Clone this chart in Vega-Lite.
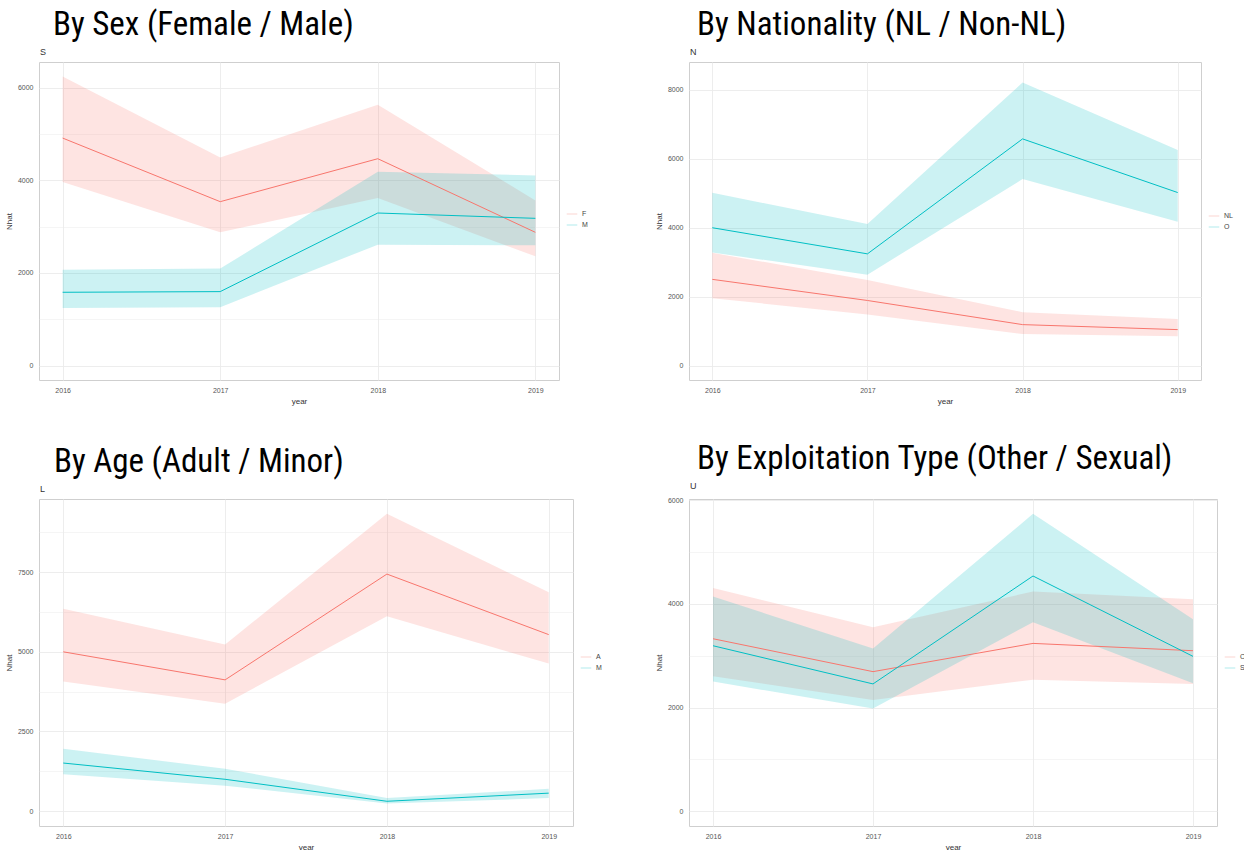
{
  "$schema": "https://vega.github.io/schema/vega-lite/v6.json",
  "background": "white",
  "padding": {"left": 4, "top": 8, "right": 2, "bottom": 0},
  "columns": 2,
  "spacing": {"row": 36, "column": 52},
  "resolve": {"scale": {"color": "independent", "y": "independent"}, "legend": {"color": "independent"}},
  "config": {
    "view": {"stroke": "#cfcfcf", "strokeWidth": 1},
    "title": {"font": "Roboto Condensed, Liberation Sans Narrow, Roboto, sans-serif", "fontSize": 33, "fontWeight": "normal", "color": "#000000", "anchor": "start", "dx": 48, "offset": 6},
    "axis": {"labelFontSize": 7, "labelColor": "#555555", "titleFontSize": 8, "titleColor": "#333333", "titleFontWeight": "normal", "domain": false, "ticks": false, "gridColor": "#ebebeb", "labelPadding": 6, "titlePadding": 4},
    "legend": {"labelFontSize": 7, "labelColor": "#444444", "symbolType": "stroke", "symbolStrokeWidth": 1.5, "symbolSize": 110}
  },
  "datasets": {
    "sex": [
      {"year": 2016, "g": "F", "est": 4914, "lo": 3964, "hi": 6245},
      {"year": 2017, "g": "F", "est": 3540, "lo": 2878, "hi": 4496},
      {"year": 2018, "g": "F", "est": 4468, "lo": 3619, "hi": 5633},
      {"year": 2019, "g": "F", "est": 2878, "lo": 2360, "hi": 3568},
      {"year": 2016, "g": "M", "est": 1583, "lo": 1245, "hi": 2072},
      {"year": 2017, "g": "M", "est": 1597, "lo": 1259, "hi": 2094},
      {"year": 2018, "g": "M", "est": 3295, "lo": 2612, "hi": 4187},
      {"year": 2019, "g": "M", "est": 3180, "lo": 2597, "hi": 4108}
    ],
    "nat": [
      {"year": 2016, "g": "NL", "est": 2505, "lo": 1961, "hi": 3272},
      {"year": 2017, "g": "NL", "est": 1893, "lo": 1485, "hi": 2485},
      {"year": 2018, "g": "NL", "est": 1194, "lo": 922, "hi": 1553},
      {"year": 2019, "g": "NL", "est": 1049, "lo": 854, "hi": 1359},
      {"year": 2016, "g": "O", "est": 4000, "lo": 3282, "hi": 5010},
      {"year": 2017, "g": "O", "est": 3243, "lo": 2641, "hi": 4107},
      {"year": 2018, "g": "O", "est": 6573, "lo": 5408, "hi": 8204},
      {"year": 2019, "g": "O", "est": 5019, "lo": 4175, "hi": 6252}
    ],
    "age": [
      {"year": 2016, "g": "A", "est": 5000, "lo": 4070, "hi": 6350},
      {"year": 2017, "g": "A", "est": 4120, "lo": 3370, "hi": 5230},
      {"year": 2018, "g": "A", "est": 7440, "lo": 6120, "hi": 9330},
      {"year": 2019, "g": "A", "est": 5540, "lo": 4630, "hi": 6870},
      {"year": 2016, "g": "M", "est": 1510, "lo": 1160, "hi": 1960},
      {"year": 2017, "g": "M", "est": 1000, "lo": 800, "hi": 1330},
      {"year": 2018, "g": "M", "est": 310, "lo": 240, "hi": 410},
      {"year": 2019, "g": "M", "est": 565, "lo": 410, "hi": 700}
    ],
    "expl": [
      {"year": 2016, "g": "O", "est": 3327, "lo": 2603, "hi": 4308},
      {"year": 2017, "g": "O", "est": 2692, "lo": 2147, "hi": 3551},
      {"year": 2018, "g": "O", "est": 3237, "lo": 2538, "hi": 4237},
      {"year": 2019, "g": "O", "est": 3096, "lo": 2455, "hi": 4090},
      {"year": 2016, "g": "S", "est": 3192, "lo": 2500, "hi": 4141},
      {"year": 2017, "g": "S", "est": 2455, "lo": 1981, "hi": 3141},
      {"year": 2018, "g": "S", "est": 4538, "lo": 3647, "hi": 5737},
      {"year": 2019, "g": "S", "est": 2987, "lo": 2468, "hi": 3705}
    ]
  },
  "concat": [
    {
      "title": {"text": "By Sex (Female / Male)"},
      "vconcat": [{
        "width": 520, "height": 318,
        "title": {"text": "S", "font": "Liberation Sans, sans-serif", "fontSize": 9, "color": "#333333", "frame": "group", "dx": 1, "offset": 5},
        "data": {"name": "sex"},
        "encoding": {
          "x": {"field": "year", "type": "quantitative", "title": "year", "scale": {"domain": [2015.85, 2019.15], "nice": false, "zero": false}, "axis": {"values": [2016, 2016.5, 2017, 2017.5, 2018, 2018.5, 2019], "labelExpr": "datum.value % 1 == 0 ? datum.label : ''", "format": "d", "gridWidth": {"condition": {"test": "datum.value % 1 != 0", "value": 0.5}, "value": 0.9}}},
          "color": {"field": "g", "type": "nominal", "scale": {"range": ["#F8766D", "#00BFC4"]}, "legend": {"title": null, "orient": "none", "legendX": 527, "legendY": 146}}
        },
        "layer": [
          {"mark": {"type": "area", "opacity": 0.2}, "encoding": {"y": {"field": "lo", "type": "quantitative", "title": "Nhat", "scale": {"domain": [-312, 6557], "nice": false, "zero": false}, "axis": {"values": [0, 1000, 2000, 3000, 4000, 5000, 6000], "labelExpr": "datum.value % 2000 == 0 ? datum.label : ''", "format": "d", "gridWidth": {"condition": {"test": "datum.value % 2000 != 0", "value": 0.5}, "value": 0.9}}}, "y2": {"field": "hi"}}},
          {"mark": {"type": "line", "strokeWidth": 1}, "encoding": {"y": {"field": "est", "type": "quantitative", "title": "Nhat"}}}
        ]
      }]
    },
    {
      "title": {"text": "By Nationality (NL / Non-NL)", "dx": 42},
      "vconcat": [{
        "width": 512, "height": 318,
        "title": {"text": "N", "font": "Liberation Sans, sans-serif", "fontSize": 9, "color": "#333333", "frame": "group", "dx": 1, "offset": 5},
        "data": {"name": "nat"},
        "encoding": {
          "x": {"field": "year", "type": "quantitative", "title": "year", "scale": {"domain": [2015.85, 2019.15], "nice": false, "zero": false}, "axis": {"values": [2016, 2016.5, 2017, 2017.5, 2018, 2018.5, 2019], "labelExpr": "datum.value % 1 == 0 ? datum.label : ''", "format": "d", "gridWidth": {"condition": {"test": "datum.value % 1 != 0", "value": 0.5}, "value": 0.9}}},
          "color": {"field": "g", "type": "nominal", "scale": {"range": ["#F8766D", "#00BFC4"]}, "legend": {"title": null, "orient": "none", "legendX": 519, "legendY": 148}}
        },
        "layer": [
          {"mark": {"type": "area", "opacity": 0.2}, "encoding": {"y": {"field": "lo", "type": "quantitative", "title": "Nhat", "scale": {"domain": [-410, 8800], "nice": false, "zero": false}, "axis": {"values": [0, 1000, 2000, 3000, 4000, 5000, 6000, 7000, 8000], "labelExpr": "datum.value % 2000 == 0 ? datum.label : ''", "format": "d", "gridWidth": {"condition": {"test": "datum.value % 2000 != 0", "value": 0.5}, "value": 0.9}}}, "y2": {"field": "hi"}}},
          {"mark": {"type": "line", "strokeWidth": 1}, "encoding": {"y": {"field": "est", "type": "quantitative", "title": "Nhat"}}}
        ]
      }]
    },
    {
      "title": {"text": "By Age (Adult / Minor)", "dx": 49},
      "vconcat": [{
        "width": 534, "height": 327,
        "title": {"text": "L", "font": "Liberation Sans, sans-serif", "fontSize": 9, "color": "#333333", "frame": "group", "dx": 1, "offset": 5},
        "data": {"name": "age"},
        "encoding": {
          "x": {"field": "year", "type": "quantitative", "title": "year", "scale": {"domain": [2015.85, 2019.15], "nice": false, "zero": false}, "axis": {"values": [2016, 2016.5, 2017, 2017.5, 2018, 2018.5, 2019], "labelExpr": "datum.value % 1 == 0 ? datum.label : ''", "format": "d", "gridWidth": {"condition": {"test": "datum.value % 1 != 0", "value": 0.5}, "value": 0.9}}},
          "color": {"field": "g", "type": "nominal", "scale": {"range": ["#F8766D", "#00BFC4"]}, "legend": {"title": null, "orient": "none", "legendX": 541, "legendY": 152}}
        },
        "layer": [
          {"mark": {"type": "area", "opacity": 0.2}, "encoding": {"y": {"field": "lo", "type": "quantitative", "title": "Nhat", "scale": {"domain": [-466, 9796], "nice": false, "zero": false}, "axis": {"values": [0, 1250, 2500, 3750, 5000, 6250, 7500, 8750], "labelExpr": "datum.value % 2500 == 0 ? datum.label : ''", "format": "d", "gridWidth": {"condition": {"test": "datum.value % 2500 != 0", "value": 0.5}, "value": 0.9}}}, "y2": {"field": "hi"}}},
          {"mark": {"type": "line", "strokeWidth": 1}, "encoding": {"y": {"field": "est", "type": "quantitative", "title": "Nhat"}}}
        ]
      }]
    },
    {
      "title": {"text": "By Exploitation Type (Other / Sexual)", "dx": 42},
      "vconcat": [{
        "width": 528, "height": 327,
        "title": {"text": "U", "font": "Liberation Sans, sans-serif", "fontSize": 9, "color": "#333333", "frame": "group", "dx": 1, "offset": 5},
        "data": {"name": "expl"},
        "encoding": {
          "x": {"field": "year", "type": "quantitative", "title": "year", "scale": {"domain": [2015.85, 2019.15], "nice": false, "zero": false}, "axis": {"values": [2016, 2016.5, 2017, 2017.5, 2018, 2018.5, 2019], "labelExpr": "datum.value % 1 == 0 ? datum.label : ''", "format": "d", "gridWidth": {"condition": {"test": "datum.value % 1 != 0", "value": 0.5}, "value": 0.9}}},
          "color": {"field": "g", "type": "nominal", "scale": {"range": ["#F8766D", "#00BFC4"]}, "legend": {"title": null, "orient": "none", "legendX": 535, "legendY": 152}}
        },
        "layer": [
          {"mark": {"type": "area", "opacity": 0.2}, "encoding": {"y": {"field": "lo", "type": "quantitative", "title": "Nhat", "scale": {"domain": [-287, 6024], "nice": false, "zero": false}, "axis": {"values": [0, 1000, 2000, 3000, 4000, 5000, 6000], "labelExpr": "datum.value % 2000 == 0 ? datum.label : ''", "format": "d", "gridWidth": {"condition": {"test": "datum.value % 2000 != 0", "value": 0.5}, "value": 0.9}}}, "y2": {"field": "hi"}}},
          {"mark": {"type": "line", "strokeWidth": 1}, "encoding": {"y": {"field": "est", "type": "quantitative", "title": "Nhat"}}}
        ]
      }]
    }
  ]
}
